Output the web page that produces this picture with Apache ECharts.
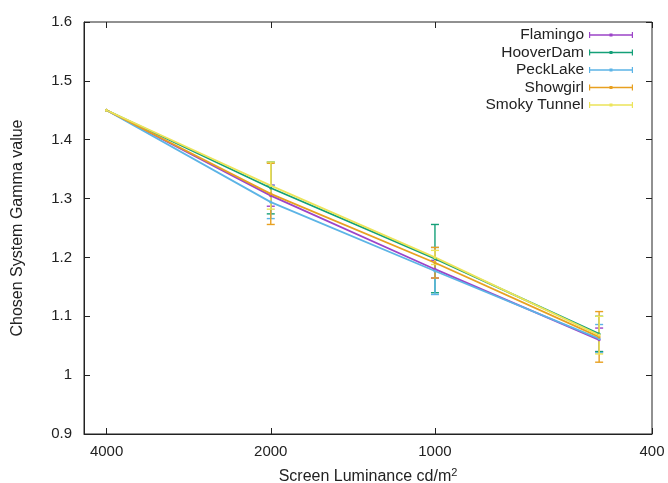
<!DOCTYPE html>
<html>
<head>
<meta charset="utf-8">
<script src="https://cdn.jsdelivr.net/npm/echarts@6/dist/echarts.min.js"></script>
<style>html,body{margin:0;padding:0;background:#fff}#c{width:668px;height:483px}</style>
</head>
<body>
<div id="c"></div>
<script>
// ---- data ----
const luminance = [4000, 2000, 1000, 500];
const xTickValues = [400, 1000, 2000, 4000];
const seriesNames = ['Flamingo', 'HooverDam', 'PeckLake', 'Showgirl', 'Smoky Tunnel'];
const flamingo    = [1.45, 1.305, 1.180, 1.060];
const hooverDam   = [1.45, 1.318, 1.198, 1.070];
const peckLake    = [1.45, 1.294, 1.177, 1.062];
const showgirl    = [1.45, 1.308, 1.191, 1.065];
const smokyTunnel = [1.45, 1.322, 1.200, 1.068];
const flamingoErr    = [0, 0.018, 0.015, 0.020];
const hooverDamErr   = [0, 0.044, 0.058, 0.030];
const peckLakeErr    = [0, 0.028, 0.040, 0.024];
const showgirlErr    = [0, 0.052, 0.026, 0.043];
const smokyTunnelErr = [0, 0.040, 0.012, 0.032];

const values = [flamingo, hooverDam, peckLake, showgirl, smokyTunnel];
const errors = [flamingoErr, hooverDamErr, peckLakeErr, showgirlErr, smokyTunnelErr];
const colors = ['#9c44c8', '#14a078', '#5cb4e6', '#e8a020', '#ece45a'];
const FONT = 'Liberation Sans, Arial, sans-serif';

const chart = echarts.init(document.getElementById('c'));
const series = [];
seriesNames.forEach((name, i) => {
  series.push({
    name: name,
    type: 'custom',
    xAxisIndex: 0, yAxisIndex: 0,
    data: luminance.map((x, j) => [x, values[i][j], errors[i][j]]),
    renderItem: function (params, api) {
      const x = api.value(0), y = api.value(1), e = api.value(2);
      if (!e) return null;
      const top = api.coord([x, y + e]);
      const bot = api.coord([x, y - e]);
      const st = { stroke: colors[i], lineWidth: 1.4 };
      return {
        type: 'group',
        children: [
          { type: 'line', shape: { x1: top[0], y1: top[1], x2: bot[0], y2: bot[1] }, style: st },
          { type: 'line', shape: { x1: top[0] - 4, y1: top[1], x2: top[0] + 4, y2: top[1] }, style: st },
          { type: 'line', shape: { x1: bot[0] - 4, y1: bot[1], x2: bot[0] + 4, y2: bot[1] }, style: st }
        ]
      };
    },
    silent: true,
    z: 2
  });
});
seriesNames.forEach((name, i) => {
  series.push({
    name: name,
    type: 'line',
    xAxisIndex: 0, yAxisIndex: 0,
    data: luminance.map((x, j) => [x, values[i][j]]),
    symbol: 'circle',
    symbolSize: 3,
    showSymbol: true,
    lineStyle: { color: colors[i], width: 1.8 },
    itemStyle: { color: colors[i] },
    z: 3
  });
});

const legendIcon = 'path://M0,3.2h44v1.6h-44z M0,1h1.2v6h-1.2z M42.8,1h1.2v6h-1.2z M20.5,2.5h3v3h-3z';

chart.setOption({
  animation: false,
  backgroundColor: '#fff',
  color: colors,
  grid: { left: 84, right: 16, top: 22, bottom: 49, show: true, borderColor: '#222', borderWidth: 1,
    containLabel: false, outerBoundsMode: 'none' },
  legend: {
    data: seriesNames.map((n, i) => ({ name: n, icon: legendIcon, itemStyle: { color: colors[i] } })),
    orient: 'vertical',
    align: 'right',
    right: 30,
    top: 22,
    itemWidth: 44,
    itemHeight: 8,
    itemGap: 1.5,
    textStyle: { fontFamily: FONT, fontSize: 15.5, lineHeight: 16, color: '#222' },
    selectedMode: false
  },
  xAxis: [{
    type: 'log',
    logBase: 10,
    min: 400,
    max: 4400,
    inverse: true,
    position: 'bottom',
    name: 'Screen Luminance cd/m{sup|2}',
    nameLocation: 'middle',
    nameGap: 33,
    nameTextStyle: {
      fontFamily: FONT, fontSize: 16, color: '#222',
      rich: { sup: { fontSize: 11, verticalAlign: 'top', padding: [0, 0, 9, 0], fontFamily: FONT, color: '#222' } }
    },
    axisLine: { show: true, lineStyle: { color: '#222' } },
    axisTick: { show: true, inside: true, length: 6, customValues: xTickValues, lineStyle: { color: '#222' } },
    axisLabel: { show: true, customValues: xTickValues, fontFamily: FONT, fontSize: 15, color: '#222', margin: 10,
      formatter: v => String(Math.round(v)) },
    minorTick: { show: false },
    splitLine: { show: false }
  }, {
    type: 'log',
    logBase: 10,
    min: 400,
    max: 4400,
    inverse: true,
    position: 'top',
    axisLine: { show: false },
    axisTick: { show: true, inside: true, length: 6, customValues: xTickValues, lineStyle: { color: '#222' } },
    axisLabel: { show: false, customValues: xTickValues },
    splitLine: { show: false }
  }],
  yAxis: [{
    type: 'value',
    min: 0.9,
    max: 1.6,
    interval: 0.1,
    position: 'left',
    name: 'Chosen System Gamma value',
    nameLocation: 'middle',
    nameGap: 58,
    nameTextStyle: { fontFamily: FONT, fontSize: 16, color: '#222' },
    axisLine: { show: true, lineStyle: { color: '#222' } },
    axisTick: { show: true, inside: true, length: 6, lineStyle: { color: '#222' } },
    axisLabel: { fontFamily: FONT, fontSize: 15, color: '#222', margin: 12,
      formatter: v => String(Math.round(v * 10) / 10) },
    splitLine: { show: false }
  }, {
    type: 'value',
    min: 0.9,
    max: 1.6,
    interval: 0.1,
    position: 'right',
    axisLine: { show: false },
    axisTick: { show: true, inside: true, length: 6, lineStyle: { color: '#222' } },
    axisLabel: { show: false },
    splitLine: { show: false }
  }],
  series: series
});
</script>
</body>
</html>
